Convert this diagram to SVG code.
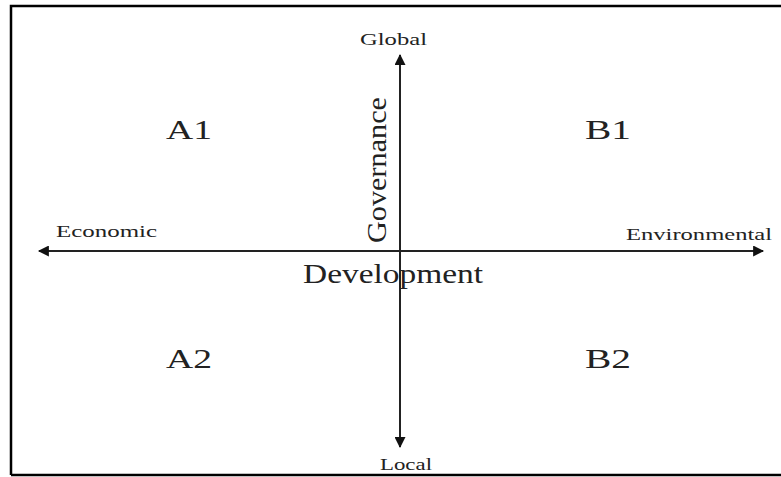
<svg xmlns="http://www.w3.org/2000/svg" width="781" height="477" viewBox="0 0 781 477">
<style>
.t{font-family:"Liberation Serif","DejaVu Serif",serif;fill:#222}
.s{font-size:17px}
.b{font-size:28px}
.ax{stroke:#222;stroke-width:2;fill:none}
</style>
<defs>
<marker id="ah" viewBox="0 0 10 10" refX="9" refY="5" markerWidth="12" markerHeight="11" markerUnits="userSpaceOnUse" orient="auto">
<path d="M0,0 L10,5 L0,10 z" fill="#111"/>
</marker>
</defs>
<rect x="0" y="0" width="781" height="477" fill="#fff"/>
<path d="M11,475 V6 H781 M11,475 H781" stroke="#000" stroke-width="2.5" fill="none"/>
<g id="connectors">
<line class="ax" x1="400" y1="251" x2="400" y2="55" marker-end="url(#ah)"/>
<line class="ax" x1="400" y1="251" x2="400" y2="447" marker-end="url(#ah)"/>
<line class="ax" x1="400" y1="251" x2="39" y2="251" marker-end="url(#ah)"/>
<line class="ax" x1="400" y1="251" x2="763" y2="251" marker-end="url(#ah)"/>
</g>
<g id="global"><text class="t s" x="360" y="45" textLength="67" lengthAdjust="spacingAndGlyphs">Global</text></g>
<g id="local"><text class="t s" x="380" y="470" textLength="52" lengthAdjust="spacingAndGlyphs">Local</text></g>
<g id="economic"><text class="t s" x="56" y="237" textLength="101" lengthAdjust="spacingAndGlyphs">Economic</text></g>
<g id="environmental"><text class="t s" x="626" y="240" textLength="146" lengthAdjust="spacingAndGlyphs">Environmental</text></g>
<g id="governance"><text class="t b" transform="translate(386,243) rotate(-90)" textLength="146" lengthAdjust="spacingAndGlyphs">Governance</text></g>
<g id="development"><text class="t b" x="303" y="283" textLength="180" lengthAdjust="spacingAndGlyphs">Development</text></g>
<g id="a1"><text class="t b" x="166" y="139" textLength="46" lengthAdjust="spacingAndGlyphs">A1</text></g>
<g id="b1"><text class="t b" x="585" y="139" textLength="46" lengthAdjust="spacingAndGlyphs">B1</text></g>
<g id="a2"><text class="t b" x="166" y="368" textLength="46" lengthAdjust="spacingAndGlyphs">A2</text></g>
<g id="b2"><text class="t b" x="585" y="368" textLength="46" lengthAdjust="spacingAndGlyphs">B2</text></g>
</svg>
